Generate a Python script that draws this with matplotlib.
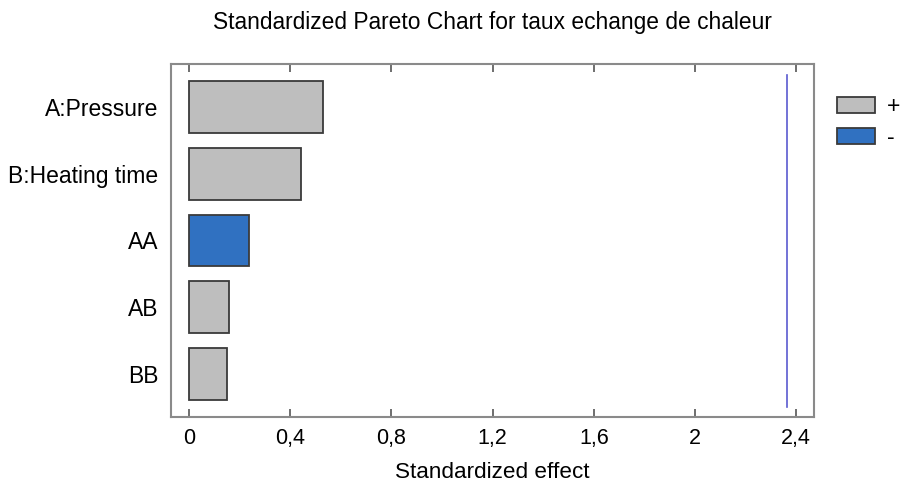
import matplotlib
matplotlib.use("Agg")
import matplotlib.pyplot as plt
from matplotlib.patches import Patch

factors = ["A:Pressure", "B:Heating time", "AA", "AB", "BB"]
effects = [0.529, 0.441, 0.237, 0.158, 0.148]
signs = ["+", "+", "-", "+", "+"]
critical_value = 2.363
xticks = [0, 0.4, 0.8, 1.2, 1.6, 2.0, 2.4]
xticklabels = ["0", "0,4", "0,8", "1,2", "1,6", "2", "2,4"]

plt.rcParams['font.family'] = ['Liberation Sans', 'DejaVu Sans']

pos_color = "#BEBEBE"
neg_color = "#3071C1"
edge = "#3A3A3A"

fig = plt.figure(figsize=(9.01, 4.83), dpi=100)
ax = fig.add_axes([171/901, 1 - 417/483, (814-171)/901, (417-64)/483])

colors = [pos_color if s == "+" else neg_color for s in signs]
ypos = list(range(len(factors)))
ax.barh(ypos, effects, height=0.78, color=colors, edgecolor=edge, linewidth=1.3)
ax.set_ylim(4.65, -0.65)
ax.set_xlim(-0.072, 2.471)
ax.axvline(critical_value, ymin=(417-407)/353, ymax=(417-75)/353, color="#5A5ACF", linewidth=1.2)

ax.set_yticks(ypos)
ax.set_yticklabels(factors, fontsize=16.5)
ax.set_xticks(xticks)
ax.set_xticklabels(xticklabels, fontsize=15.5)
ax.tick_params(axis='y', length=0, pad=9)
ax.tick_params(axis='x', direction='in', top=True, length=6, width=1.2, color="#555555", pad=8)
for s in ax.spines.values():
    s.set_color("#8A8A8A")
    s.set_linewidth(1.5)

ax.set_xlabel("Standardized effect", fontsize=16.2, labelpad=9)
ax.set_title("Standardized Pareto Chart for taux echange de chaleur", fontsize=16.4, pad=25)

handles = [Patch(facecolor=pos_color, edgecolor=edge, linewidth=1.3, label="+"),
           Patch(facecolor=neg_color, edgecolor=edge, linewidth=1.3, label="-")]
fig.legend(handles=handles, loc="upper left", bbox_to_anchor=(837/901, 1 - 95/483),
           frameon=False, fontsize=16.5, handlelength=1.66, handleheight=0.75,
           handletextpad=0.5, labelspacing=0.35, borderpad=0, borderaxespad=0)

fig.savefig("out.png", dpi=100)
